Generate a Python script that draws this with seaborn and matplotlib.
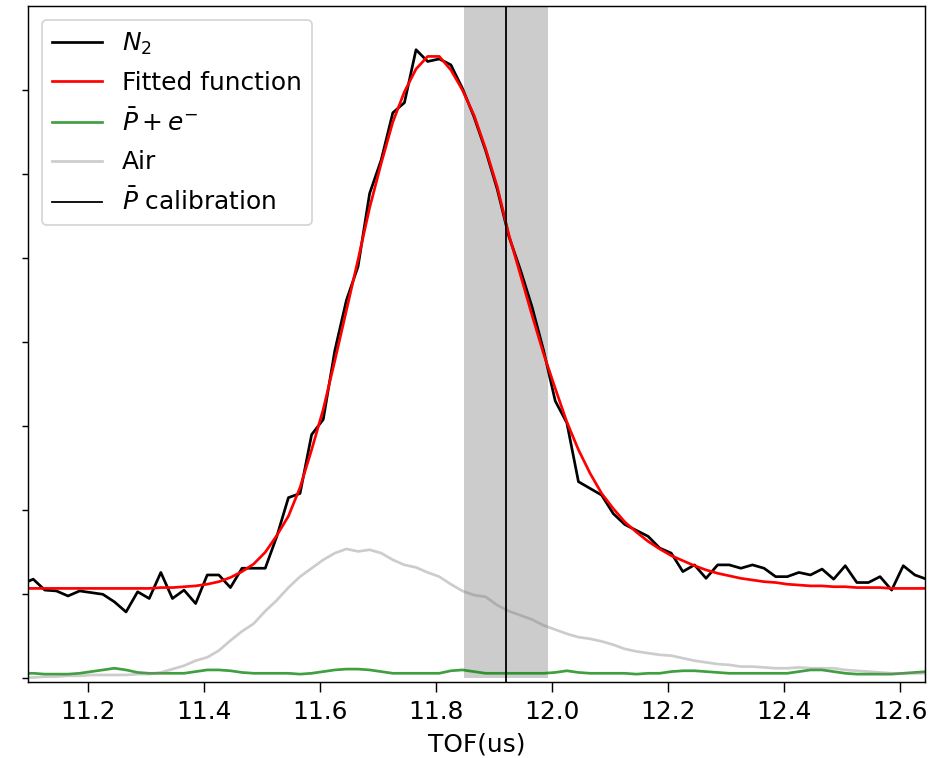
import matplotlib
matplotlib.use("Agg")
import matplotlib.pyplot as plt
import seaborn as sns

# Time-of-flight bins (us)
tof = [11.086, 11.106, 11.126, 11.146, 11.166, 11.186, 11.206, 11.226, 11.246, 11.266,
       11.286, 11.306, 11.326, 11.346, 11.366, 11.386, 11.406, 11.426, 11.446, 11.466,
       11.486, 11.506, 11.526, 11.546, 11.566, 11.586, 11.606, 11.626, 11.646, 11.666,
       11.686, 11.706, 11.726, 11.746, 11.766, 11.786, 11.806, 11.826, 11.846, 11.866,
       11.886, 11.906, 11.926, 11.946, 11.966, 11.986, 12.006, 12.026, 12.046, 12.066,
       12.086, 12.106, 12.126, 12.146, 12.166, 12.186, 12.206, 12.226, 12.246, 12.266,
       12.286, 12.306, 12.326, 12.346, 12.366, 12.386, 12.406, 12.426, 12.446, 12.466,
       12.486, 12.506, 12.526, 12.546, 12.566, 12.586, 12.606, 12.626, 12.646]

# N2 signal
n2 = [1.12, 1.18, 1.05, 1.04, 0.98, 1.04, 1.02, 1.00, 0.91, 0.79,
      1.03, 0.95, 1.26, 0.95, 1.05, 0.89, 1.23, 1.23, 1.08, 1.31,
      1.31, 1.31, 1.69, 2.15, 2.20, 2.90, 3.08, 3.90, 4.50, 4.90,
      5.77, 6.17, 6.73, 6.85, 7.48, 7.34, 7.37, 7.30, 7.02, 6.68,
      6.28, 5.82, 5.26, 4.86, 4.42, 3.90, 3.30, 3.04, 2.34, 2.26,
      2.18, 1.96, 1.83, 1.76, 1.69, 1.55, 1.49, 1.27, 1.35, 1.19,
      1.35, 1.35, 1.31, 1.35, 1.31, 1.21, 1.21, 1.26, 1.23, 1.30,
      1.18, 1.34, 1.14, 1.14, 1.21, 1.05, 1.34, 1.23, 1.18]

# Fitted function evaluated on the same bins
fit = [1.07, 1.07, 1.07, 1.07, 1.07, 1.07, 1.07, 1.07, 1.07, 1.07,
       1.07, 1.07, 1.08, 1.08, 1.09, 1.10, 1.12, 1.15, 1.20, 1.27,
       1.36, 1.50, 1.70, 1.93, 2.27, 2.72, 3.20, 3.78, 4.38, 4.98,
       5.60, 6.13, 6.62, 6.98, 7.25, 7.40, 7.40, 7.24, 7.00, 6.70,
       6.30, 5.85, 5.28, 4.80, 4.32, 3.86, 3.45, 3.05, 2.72, 2.44,
       2.20, 2.02, 1.86, 1.74, 1.63, 1.54, 1.46, 1.40, 1.34, 1.29,
       1.25, 1.22, 1.19, 1.17, 1.15, 1.14, 1.12, 1.11, 1.10, 1.10,
       1.09, 1.09, 1.08, 1.08, 1.08, 1.07, 1.07, 1.07, 1.07]

# Antiproton + electron background
pbar_e = [0.06, 0.06, 0.05, 0.05, 0.05, 0.06, 0.08, 0.10, 0.12, 0.10,
          0.07, 0.06, 0.06, 0.06, 0.06, 0.08, 0.10, 0.10, 0.09, 0.07,
          0.06, 0.06, 0.06, 0.06, 0.05, 0.06, 0.08, 0.10, 0.11, 0.11,
          0.10, 0.08, 0.06, 0.06, 0.06, 0.06, 0.06, 0.09, 0.10, 0.08,
          0.06, 0.06, 0.06, 0.06, 0.06, 0.06, 0.07, 0.09, 0.07, 0.06,
          0.06, 0.06, 0.06, 0.05, 0.06, 0.06, 0.08, 0.09, 0.09, 0.08,
          0.07, 0.06, 0.06, 0.06, 0.06, 0.06, 0.06, 0.08, 0.10, 0.10,
          0.08, 0.06, 0.05, 0.05, 0.05, 0.05, 0.06, 0.07, 0.08]

# Air reference spectrum
air = [0.01, 0.01, 0.02, 0.02, 0.03, 0.03, 0.04, 0.04, 0.04, 0.04,
       0.05, 0.05, 0.07, 0.11, 0.15, 0.21, 0.25, 0.33, 0.45, 0.56,
       0.65, 0.80, 0.93, 1.08, 1.21, 1.31, 1.41, 1.49, 1.54, 1.51,
       1.53, 1.49, 1.41, 1.35, 1.32, 1.26, 1.21, 1.12, 1.04, 0.99,
       0.97, 0.87, 0.80, 0.75, 0.70, 0.63, 0.58, 0.53, 0.49, 0.47,
       0.44, 0.40, 0.35, 0.32, 0.30, 0.28, 0.27, 0.24, 0.21, 0.19,
       0.17, 0.16, 0.14, 0.14, 0.13, 0.12, 0.12, 0.13, 0.12, 0.12,
       0.12, 0.10, 0.09, 0.08, 0.07, 0.06, 0.06, 0.06, 0.06]

# Antiproton calibration time and its uncertainty band (us)
calib_center = 11.921
calib_low = 11.849
calib_high = 11.994

x_range = (11.097, 12.644)
y_range = (-0.04, 8.0)
y_ticks = [0, 1, 2, 3, 4, 5, 6, 7]
x_ticks = [11.2, 11.4, 11.6, 11.8, 12.0, 12.2, 12.4, 12.6]

plt.rcParams["font.size"] = 13.8

DPI = 130
fig = plt.figure(figsize=(948 / DPI, 758 / DPI), dpi=DPI)
ax = fig.add_axes([28 / 948, 1 - 681.7 / 758, 897.3 / 948, 675.7 / 758])

ax.fill_betweenx([0, y_range[1]], calib_low, calib_high, color="grey", alpha=0.4, linewidth=0)

sns.lineplot(x=tof, y=n2, ax=ax, color="black", linewidth=1.5, label="$N_2$",
             sort=False, estimator=None)
sns.lineplot(x=tof, y=fit, ax=ax, color="red", linewidth=1.5, label="Fitted function",
             sort=False, estimator=None)
sns.lineplot(x=tof, y=pbar_e, ax=ax, color="green", alpha=0.75, linewidth=1.5,
             label=r"$\bar{P} + e^{-}$", sort=False, estimator=None)
sns.lineplot(x=tof, y=air, ax=ax, color="grey", alpha=0.4, linewidth=1.5, label="Air",
             sort=False, estimator=None)
ax.axvline(calib_center, color="black", linewidth=1, label=r"$\bar{P}$ calibration")

ax.set_xlim(*x_range)
ax.set_ylim(*y_range)
ax.set_xticks(x_ticks)
ax.set_yticks(y_ticks)
ax.set_yticklabels([])
ax.tick_params(axis="x", length=5.5, pad=4.5)
ax.set_xlabel("TOF(us)", labelpad=5)
ax.set_ylabel("")
ax.legend(loc="upper left", labelspacing=0.57, borderaxespad=0.58)

fig.savefig("out.png", dpi=DPI)
